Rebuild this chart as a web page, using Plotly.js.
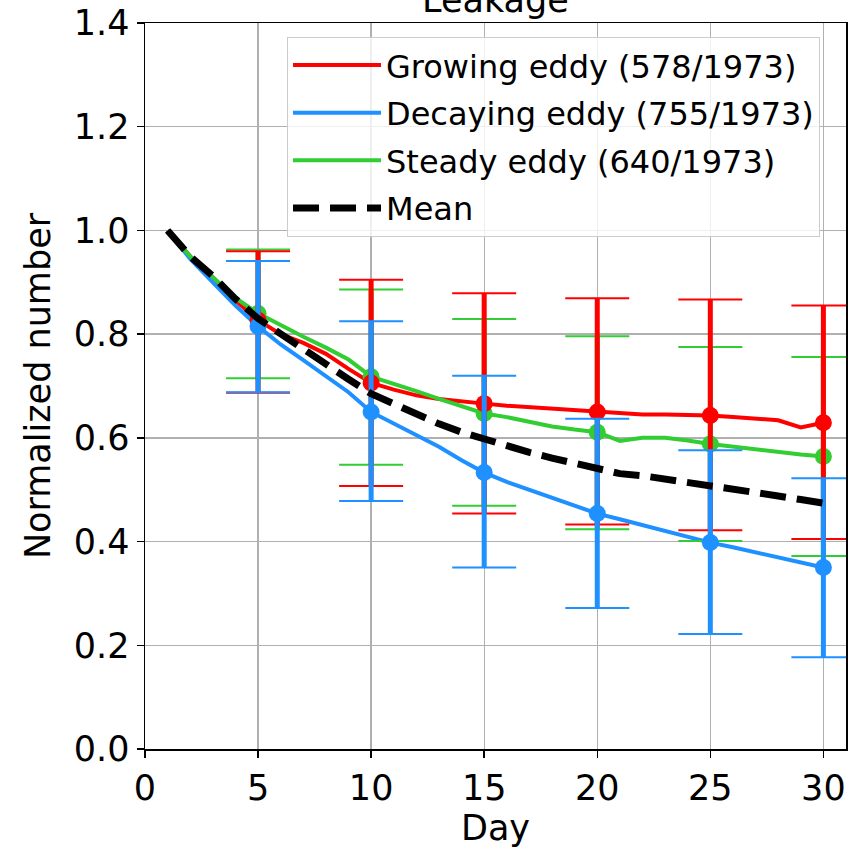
<!DOCTYPE html>
<html>
<head>
<meta charset="utf-8">
<script src="https://cdn.plot.ly/plotly-3.0.1.min.js"></script>
<style>html,body{margin:0;padding:0;background:#fff;}#chart{width:849px;height:849px;}</style>
</head>
<body>
<div id="chart"></div>
<script>
const days = [1,2,3,4,5,6,7,8,9,10,11,12,13,14,15,16,17,18,19,20,21,22,23,24,25,26,27,28,29,30];
const growing  = [1.0,0.95,0.91,0.865,0.827,0.80,0.783,0.762,0.733,0.706,0.693,0.682,0.675,0.670,0.666,0.662,0.659,0.656,0.653,0.650,0.647,0.645,0.645,0.644,0.643,0.640,0.637,0.634,0.620,0.629];
const decaying = [1.0,0.945,0.90,0.855,0.815,0.78,0.75,0.72,0.688,0.650,0.628,0.607,0.583,0.557,0.533,0.515,0.500,0.484,0.469,0.454,0.443,0.432,0.421,0.409,0.398,0.389,0.379,0.370,0.360,0.350];
const steady   = [1.0,0.95,0.91,0.87,0.840,0.817,0.795,0.774,0.751,0.718,0.705,0.690,0.675,0.660,0.647,0.640,0.631,0.622,0.616,0.611,0.594,0.600,0.600,0.595,0.588,0.583,0.577,0.572,0.568,0.564];
const meanLine = [1.0,0.95,0.912,0.868,0.83,0.80,0.772,0.742,0.713,0.685,0.665,0.645,0.627,0.611,0.597,0.585,0.572,0.561,0.551,0.543,0.531,0.527,0.521,0.514,0.507,0.500,0.494,0.488,0.481,0.474];

const markDays = [5,10,15,20,25,30];
const growingMark = [0.827,0.706,0.666,0.650,0.643,0.629];
const growingHi   = [0.960,0.905,0.879,0.869,0.867,0.855];
const growingLo   = [0.687,0.507,0.454,0.433,0.422,0.405];
const decayingMark = [0.815,0.650,0.533,0.454,0.398,0.350];
const decayingHi   = [0.941,0.825,0.720,0.637,0.576,0.522];
const decayingLo   = [0.688,0.478,0.350,0.272,0.222,0.177];
const steadyMark = [0.840,0.718,0.647,0.611,0.588,0.564];
const steadyHi   = [0.963,0.886,0.829,0.796,0.775,0.756];
const steadyLo   = [0.715,0.548,0.469,0.424,0.401,0.372];

const names = ['Growing eddy (578/1973)','Decaying eddy (755/1973)','Steady eddy (640/1973)','Mean'];
const RED = '#ff0000', BLUE = '#1e90ff', GREEN = '#32cd32';

function lineTrace(y, name, color, rank){
  return {x: days, y: y, name: name, mode: 'lines', type: 'scatter', legendgroup: 'g' + rank,
          line: {color: color, width: 4}, legendrank: rank, hoverinfo: 'skip'};
}
function barTrace(y, hi, lo, color, thick, capw, withMarkers, rank){
  return {x: markDays, y: y, mode: 'markers', type: 'scatter', showlegend: false, legendgroup: 'g' + rank,
          marker: {color: color, size: withMarkers ? 17 : 1, opacity: withMarkers ? 1 : 0},
          error_y: {type: 'data', symmetric: false,
                    array: hi.map((v,i)=>v - y[i]), arrayminus: lo.map((v,i)=>y[i] - v),
                    color: color, thickness: thick, width: capw},
          hoverinfo: 'skip'};
}

const traces = [
  lineTrace(growing, names[0], RED, 1),
  lineTrace(decaying, names[1], BLUE, 2),
  lineTrace(steady, names[2], GREEN, 3),
  barTrace(steadyMark, steadyHi, steadyLo, GREEN, 2, 32, false, 3),
  barTrace(steadyMark, steadyHi, steadyLo, GREEN, 5, 0, true, 3),
  barTrace(growingMark, growingHi, growingLo, RED, 2, 32, false, 1),
  barTrace(growingMark, growingHi, growingLo, RED, 5, 0, true, 1),
  barTrace(decayingMark, decayingHi, decayingLo, BLUE, 2, 32, false, 2),
  barTrace(decayingMark, decayingHi, decayingLo, BLUE, 5, 0, true, 2),
  {x: days, y: meanLine, name: names[3], mode: 'lines', type: 'scatter', legendgroup: 'g4',
   line: {color: '#000000', width: 7, dash: '26px,11px'}, legendrank: 4, hoverinfo: 'skip'}
];

const axisCommon = {
  showline: true, linecolor: '#000', linewidth: 1.5, mirror: true,
  ticks: 'outside', ticklen: 7, tickwidth: 1.5, tickcolor: '#000',
  showgrid: true, gridcolor: '#b0b0b0', gridwidth: 1.3, zeroline: false,
  tickfont: {family: 'DejaVu Sans', size: 35, color: '#000'}
};

const layout = {
  width: 849, height: 849,
  margin: {l: 145, r: 3, t: 23, b: 100, pad: 0},
  paper_bgcolor: '#fff', plot_bgcolor: '#fff',
  font: {family: 'DejaVu Sans', color: '#000'},
  title: {text: 'Leakage', font: {family: 'DejaVu Sans', size: 35, color: '#000'},
          x: 0.5835, xanchor: 'center', y: 1.0, yref: 'container', yanchor: 'middle'},
  xaxis: Object.assign({}, axisCommon, {range: [0, 31], tickvals: [0,5,10,15,20,25,30],
          title: {text: 'Day', font: {family: 'DejaVu Sans', size: 35, color: '#000'}, standoff: 8}}),
  yaxis: Object.assign({}, axisCommon, {range: [0, 1.4], dtick: 0.2, tickformat: '.1f',
          title: {text: 'Normalized number', font: {family: 'DejaVu Sans', size: 35, color: '#000'}, standoff: 12}}),
  showlegend: true,
  legend: {x: 0.2026, y: 0.981, xanchor: 'left', yanchor: 'top',
           bgcolor: 'rgba(255,255,255,0.8)', bordercolor: '#cccccc', borderwidth: 1,
           font: {family: 'DejaVu Sans', size: 32, color: '#000'}, itemwidth: 88,
           traceorder: 'grouped', tracegroupgap: 3}
};

Plotly.newPlot('chart', traces, layout, {displayModeBar: false, staticPlot: true});
</script>
</body>
</html>
